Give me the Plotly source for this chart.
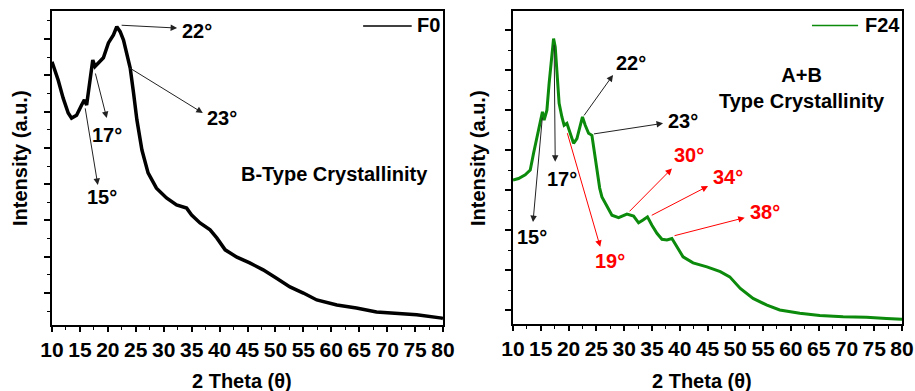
import plotly.graph_objects as go

# ---------------- data ----------------
f0_theta = [10.0, 11.1, 12.0, 12.9, 13.5, 14.4, 15.3, 15.8, 16.2, 16.8, 17.3, 17.7, 18.3, 19.2,
            20.1, 21.0, 21.6, 22.2, 22.8, 23.4, 24.0, 24.6, 25.2, 26.1, 27.2, 28.7, 30.5, 32.3,
            34.1, 35.0, 36.5, 38.3, 39.5, 41.0, 43.1, 45.4, 47.8, 50.2, 52.6, 55.0, 57.4, 61.0,
            64.5, 68.1, 71.7, 75.3, 79.8, 80.0]
f0_intensity = [737, 687, 637, 596, 582, 590, 618, 632, 618, 687, 742, 724, 734, 748,
                789, 811, 834, 820, 797, 761, 720, 651, 577, 494, 431, 389, 362, 343,
                334, 315, 293, 274, 252, 219, 199, 183, 164, 141, 117, 100, 81, 67,
                59, 48, 45, 40, 31, 30]

f24_theta = [10.0, 11.0, 12.2, 13.1, 13.7, 14.3, 14.9, 15.3, 15.6, 16.1, 16.5, 17.0, 17.3, 17.6,
             17.9, 18.3, 18.8, 19.2, 19.7, 20.3, 20.9, 21.5, 22.1, 22.5, 23.0, 23.6, 24.2, 24.6,
             25.1, 25.6, 26.0, 26.9, 27.8, 29.0, 30.5, 31.7, 32.6, 33.4, 34.2, 35.0, 35.9, 36.8,
             37.7, 38.6, 39.5, 40.6, 42.4, 44.9, 47.3, 49.0, 50.9, 53.2, 55.7, 58.0, 61.6, 65.2,
             69.4, 73.6, 77.2, 80.0]
f24_intensity = [425, 429, 438, 450, 492, 533, 575, 596, 575, 600, 667, 742, 779, 758,
                 683, 617, 583, 562, 567, 542, 517, 529, 562, 583, 562, 542, 537, 500,
                 450, 405, 383, 358, 337, 331, 340, 335, 318, 325, 333, 312, 292, 277,
                 275, 279, 258, 233, 218, 208, 196, 183, 154, 129, 112, 100, 92, 86,
                 83, 82, 79, 77]

x_ticks = [10, 15, 20, 25, 30, 35, 40, 45, 50, 55, 60, 65, 70, 75, 80]

# peak labels: (text, tail_x, tail_y, head_x, head_y, label_x, label_y, anchor, colour)
f0_peaks = [
    ("22°", 22.2, 838, 32.4, 830, 32.9, 822, "left", "black"),
    ("23°", 23.6, 723, 37.0, 596, 37.4, 582, "left", "black"),
    ("17°", 17.7, 709, 19.8, 582, 19.8, 535, "center", "black"),
    ("15°", 15.9, 613, 18.2, 398, 19.0, 365, "center", "black"),
]
f24_peaks = [
    ("22°", 22.6, 583, 28.0, 688, 31.2, 717, "center", "black"),
    ("23°", 24.3, 540, 37.0, 567, 37.5, 572, "left", "black"),
    ("17°", 17.4, 767, 17.6, 471, 18.8, 427, "center", "black"),
    ("15°", 15.3, 585, 13.6, 320, 13.4, 282, "center", "black"),
    ("19°", 19.7, 546, 25.7, 258, 27.5, 222, "center", "#ff0000"),
    ("30°", 30.7, 343, 38.6, 454, 41.7, 487, "center", "#ff0000"),
    ("34°", 34.7, 335, 45.1, 410, 48.7, 432, "center", "#ff0000"),
    ("38°", 38.8, 285, 51.7, 331, 55.3, 345, "center", "#ff0000"),
]

FONT = "Liberation Sans, Arial, sans-serif"
GREEN = "#0b8a0b"

fig = go.Figure()
fig.add_trace(go.Scatter(x=f0_theta, y=f0_intensity, mode="lines", name="F0",
                         line=dict(color="black", width=3.5), xaxis="x", yaxis="y",
                         showlegend=False))
fig.add_trace(go.Scatter(x=f24_theta, y=f24_intensity, mode="lines", name="F24",
                         line=dict(color=GREEN, width=3), xaxis="x2", yaxis="y2",
                         showlegend=False))

def xaxis(domain, anchor):
    return dict(domain=domain, anchor=anchor, range=[10, 80], tickmode="array",
                tickvals=x_ticks, ticks="outside", ticklen=5, tickwidth=1.5,
                tickcolor="black", showline=True, linecolor="black", linewidth=1.6,
                mirror=True, showgrid=False, zeroline=False, automargin=False,
                tickfont=dict(family=FONT, size=21, color="black", weight="bold"),
                minor=dict(dtick=2.5, tick0=0, ticks="outside", ticklen=3,
                           tickwidth=1.2, tickcolor="black", showgrid=False))

def yaxis(domain, anchor, rng):
    return dict(domain=domain, anchor=anchor, range=rng, tick0=0, dtick=100,
                ticks="outside", ticklen=6, tickwidth=1.5, tickcolor="black",
                showticklabels=False, showline=True, linecolor="black", linewidth=1.6,
                mirror=True, showgrid=False, zeroline=False, automargin=False,
                minor=dict(dtick=50, tick0=0, ticks="outside", ticklen=3,
                           tickwidth=1.2, tickcolor="black", showgrid=False))

W, H = 915, 391
fig.update_layout(
    width=W, height=H, margin=dict(l=0, r=0, t=0, b=0),
    paper_bgcolor="white", plot_bgcolor="white",
    xaxis=xaxis([52 / W, 443 / W], "y"),
    yaxis=yaxis([(H - 325) / H, (H - 11) / H], "x", [12, 877]),
    xaxis2=xaxis([513 / W, 902 / W], "y2"),
    yaxis2=yaxis([(H - 324) / H, (H - 11) / H], "x2", [65, 848]),
)

ann = []
shapes = []
afont = dict(family=FONT, size=20, weight="bold")

def add_peaks(peaks, xr, yr):
    for t, tx, ty, hx, hy, lx, ly, anc, col in peaks:
        ann.append(dict(x=hx, y=hy, ax=tx, ay=ty, xref=xr, yref=yr, axref=xr, ayref=yr,
                        text="", showarrow=True, arrowhead=2, arrowsize=1.3,
                        arrowwidth=1, arrowcolor="#222222" if col == "black" else col,
                        standoff=0, startstandoff=0))
        ann.append(dict(x=lx, y=ly, xref=xr, yref=yr, text=t, showarrow=False,
                        xanchor=anc, yanchor="middle",
                        font=dict(color=col, **afont)))

add_peaks(f0_peaks, "x", "y")
add_peaks(f24_peaks, "x2", "y2")

# panel notes
ann.append(dict(x=60.5, y=428, xref="x", yref="y", text="B-Type Crystallinity",
                showarrow=False, xanchor="center", yanchor="middle",
                font=dict(color="black", **afont)))
ann.append(dict(x=62.0, y=655, xref="x2", yref="y2", text="A+B<br>Type Crystallinity",
                showarrow=False, align="center", xanchor="center", yanchor="middle",
                font=dict(color="black", **afont)))

# legend keys
shapes.append(dict(type="line", xref="x", yref="y", x0=65.7, x1=74.4, y0=836, y1=836,
                   line=dict(color="black", width=1.5)))
ann.append(dict(x=75.0, y=839, xref="x", yref="y", text="F0", showarrow=False,
                xanchor="left", yanchor="middle", font=dict(color="black", **afont)))
shapes.append(dict(type="line", xref="x2", yref="y2", x0=63.8, x1=72.1, y0=812, y1=812,
                   line=dict(color=GREEN, width=1.5)))
ann.append(dict(x=73.0, y=812, xref="x2", yref="y2", text="F24", showarrow=False,
                xanchor="left", yanchor="middle", font=dict(color="black", **afont)))

# axis titles
for px in (242, 702):
    ann.append(dict(x=px / W, y=(H - 381) / H, xref="paper", yref="paper",
                    text="2 Theta (θ)", showarrow=False, xanchor="center", yanchor="middle",
                    font=dict(color="black", **afont)))
for px in (20, 478):
    ann.append(dict(x=px / W, y=(H - 158) / H, xref="paper", yref="paper",
                    text="Intensity (a.u.)", showarrow=False, textangle=-90,
                    xanchor="center", yanchor="middle",
                    font=dict(color="black", **afont)))

fig.update_layout(annotations=ann, shapes=shapes)
fig.write_html("out.html", config={"displayModeBar": False},
               post_script="document.body.style.margin='0';document.body.style.padding='0';")
